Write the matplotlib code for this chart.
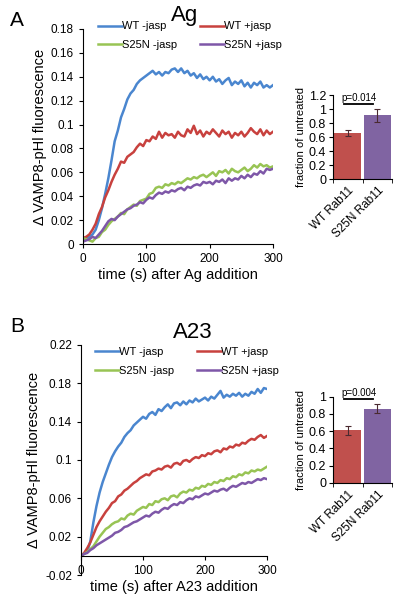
import numpy as np
import matplotlib
matplotlib.use("Agg")
import matplotlib.pyplot as plt
from matplotlib.ticker import FuncFormatter

plt.rcParams['font.family'] = ['Liberation Sans', 'DejaVu Sans']

# time axis (s), one reading every 5 s
t = list(range(0, 301, 5))

# Panel A: Ag stimulation
ag_wt_minus = [.005, .004, .006, .008, .012, .020, .030, .042, .055, .070, .086, .095, .106, .113, .121,
               .126, .129, .134, .137, .139, .141, .143, .145, .142, .144, .141, .144, .143, .146, .147,
               .144, .147, .143, .145, .141, .143, .139, .142, .138, .140, .137, .140, .136, .138, .134,
               .137, .139, .133, .136, .134, .137, .132, .135, .131, .135, .133, .136, .131, .133, .131, .133]
ag_wt_plus = [.005, .006, .008, .012, .017, .025, .031, .039, .045, .052, .058, .063, .069, .068, .073,
              .075, .077, .081, .084, .082, .087, .086, .090, .088, .094, .089, .093, .091, .092, .089,
              .094, .091, .090, .096, .093, .099, .092, .095, .090, .094, .092, .096, .093, .090, .095,
              .092, .094, .089, .093, .091, .094, .090, .093, .097, .094, .092, .096, .091, .095, .092, .094]
ag_s25n_minus = [.005, .004, .003, .002, .005, .006, .010, .012, .016, .019, .021, .023, .026, .025, .029,
                 .031, .033, .032, .036, .037, .038, .042, .043, .047, .048, .047, .050, .049, .051, .050,
                 .052, .051, .053, .055, .054, .056, .055, .057, .058, .056, .058, .060, .057, .061, .060,
                 .062, .059, .063, .061, .060, .062, .064, .061, .063, .066, .064, .067, .065, .066, .064, .065]
ag_s25n_plus = [.002, .003, .004, .006, .005, .008, .011, .015, .019, .021, .020, .023, .025, .027, .029,
                .030, .032, .033, .035, .034, .037, .039, .038, .041, .043, .042, .044, .043, .045, .044,
                .046, .047, .045, .048, .047, .049, .050, .049, .052, .051, .052, .050, .053, .052, .054,
                .051, .055, .053, .055, .054, .057, .055, .058, .056, .059, .058, .061, .059, .063, .062, .063]

# Panel B: A23 stimulation
a23_wt_minus = [.000, .002, .004, .015, .035, .052, .066, .077, .086, .095, .103, .109, .114, .118, .124,
                .128, .131, .136, .139, .142, .145, .143, .148, .150, .147, .153, .151, .155, .158, .154,
                .159, .160, .157, .161, .158, .162, .160, .164, .161, .163, .165, .162, .166, .164, .168,
                .172, .165, .168, .166, .169, .167, .170, .166, .169, .167, .171, .169, .174, .170, .175, .174]
a23_wt_plus = [.000, .003, .008, .014, .022, .030, .036, .041, .046, .050, .055, .057, .062, .064, .068,
               .070, .073, .076, .078, .081, .083, .085, .084, .088, .089, .091, .090, .093, .094, .092,
               .096, .097, .095, .099, .100, .098, .101, .103, .102, .105, .104, .107, .106, .109, .110,
               .108, .112, .111, .114, .113, .116, .115, .118, .117, .120, .122, .121, .124, .126, .123, .125]
a23_s25n_minus = [.000, .002, .004, .007, .010, .015, .020, .024, .028, .030, .033, .035, .036, .039, .038,
                  .042, .044, .043, .047, .049, .051, .050, .054, .053, .057, .056, .059, .060, .058, .062,
                  .063, .061, .065, .067, .066, .069, .068, .071, .070, .073, .072, .075, .074, .077, .076,
                  .079, .078, .081, .080, .083, .082, .085, .084, .087, .086, .089, .088, .090, .089, .091, .093]
a23_s25n_plus = [.000, .002, .003, .006, .008, .011, .013, .015, .017, .019, .021, .024, .025, .027, .030,
                 .031, .033, .035, .036, .038, .040, .042, .041, .044, .046, .045, .048, .050, .049, .052,
                 .054, .053, .056, .055, .058, .060, .059, .062, .061, .063, .065, .064, .066, .068, .067,
                 .069, .070, .068, .071, .073, .072, .074, .076, .075, .077, .076, .078, .080, .079, .081, .080]

series_labels = ["WT -jasp", "WT +jasp", "S25N -jasp", "S25N +jasp"]
line_colors = ["#4A86CF", "#C8413E", "#98C454", "#7E57A8"]

# bar insets: fraction of untreated
bar_labels = ["WT Rab11", "S25N Rab11"]
ag_frac = [0.66, 0.91]
ag_err = [0.04, 0.09]
a23_frac = [0.61, 0.86]
a23_err = [0.05, 0.05]
bar_colors = ["#C0504D", "#8064A2"]


def fmt(v, pos):
    return "%g" % round(v, 3)


def draw_curves(ax, curves, xlabel, ylim, yticks, leg_anchor):
    for y, lab, c in zip(curves, series_labels, line_colors):
        ax.plot(t, y, color=c, lw=1.8, label=lab)
    ax.set_xlim(0, 300)
    ax.set_ylim(*ylim)
    ax.set_xticks([0, 100, 200, 300])
    ax.set_yticks(yticks)
    ax.yaxis.set_major_formatter(FuncFormatter(fmt))
    ax.spines['top'].set_visible(False)
    ax.spines['right'].set_visible(False)
    ax.tick_params(labelsize=8.5, length=3, direction='out')
    ax.set_xlabel(xlabel, fontsize=10.5, labelpad=2)
    ax.set_ylabel("\u0394 VAMP8-pHl fluorescence", fontsize=10.5, labelpad=3)
    # legend order: matplotlib fills columns first
    h, l = ax.get_legend_handles_labels()
    order = [0, 2, 1, 3]
    ax.legend([h[i] for i in order], [l[i] for i in order], ncol=2, frameon=False,
              fontsize=8, handlelength=2.2, handletextpad=0.0, columnspacing=2.0,
              labelspacing=0.75, loc='upper left', bbox_to_anchor=leg_anchor,
              borderaxespad=0, borderpad=0)


def draw_bars(ax, vals, errs, ymax, yticks, ptext, py):
    x = np.arange(len(vals))
    ax.bar(x, vals, width=0.93, color=bar_colors, yerr=errs,
           error_kw=dict(ecolor='#4a2a30', elinewidth=0.8, capsize=2, capthick=0.8))
    ax.set_xlim(-0.5, 1.5)
    ax.set_ylim(0, ymax)
    ax.set_yticks(yticks)
    ax.yaxis.set_major_formatter(FuncFormatter(fmt))
    ax.set_xticks(x)
    ax.set_xticklabels(bar_labels, rotation=45, ha='right', rotation_mode='anchor', fontsize=8.5)
    ax.set_xticks([-0.5, 0.5, 1.5], minor=True)
    ax.tick_params(axis='x', which='major', length=0, pad=4)
    ax.tick_params(axis='x', which='minor', length=3)
    ax.tick_params(axis='y', labelsize=9, length=3, pad=2)
    ax.spines['top'].set_visible(False)
    ax.spines['right'].set_visible(False)
    ax.set_ylabel("fraction of untreated", fontsize=8, labelpad=2)
    ax.plot([-0.12, 0.86], [py, py], color='black', lw=1.3, clip_on=False)
    ax.text(0.37, py + 0.01, ptext, fontsize=7, ha='center', va='bottom', clip_on=False)


fig = plt.figure(figsize=(4, 6.04), dpi=100)

# Panel A
axA = fig.add_axes([0.2075, 0.596, 0.475, 0.356])
draw_curves(axA, [ag_wt_minus, ag_wt_plus, ag_s25n_minus, ag_s25n_plus],
            "time (s) after Ag addition", (0, 0.18), np.arange(0, 0.181, 0.02), (0.079, 1.035))
barA = fig.add_axes([0.8325, 0.7036, 0.1475, 0.139])
draw_bars(barA, ag_frac, ag_err, 1.2, [0, 0.2, 0.4, 0.6, 0.8, 1, 1.2], "p=0.014", 1.07)

# Panel B
axB = fig.add_axes([0.2025, 0.048, 0.465, 0.381])
draw_curves(axB, [a23_wt_minus, a23_wt_plus, a23_s25n_minus, a23_s25n_plus],
            "time (s) after A23 addition", (-0.02, 0.22), np.arange(-0.02, 0.221, 0.04), (0.075, 0.99))
axB.spines['bottom'].set_position(('data', 0))
barB = fig.add_axes([0.8325, 0.2008, 0.1475, 0.1424])
draw_bars(barB, a23_frac, a23_err, 1.0, [0, 0.2, 0.4, 0.6, 0.8, 1], "p=0.004", 0.97)

# panel letters and titles
fig.text(10 / 400, 1 - 20 / 604, "A", fontsize=15, ha='left', va='center')
fig.text(185 / 400, 1 - 15 / 604, "Ag", fontsize=16, ha='center', va='center')
fig.text(10 / 400, 1 - 327 / 604, "B", fontsize=15, ha='left', va='center')
fig.text(193 / 400, 1 - 333 / 604, "A23", fontsize=16, ha='center', va='center')

fig.savefig("out.png", dpi=100)
